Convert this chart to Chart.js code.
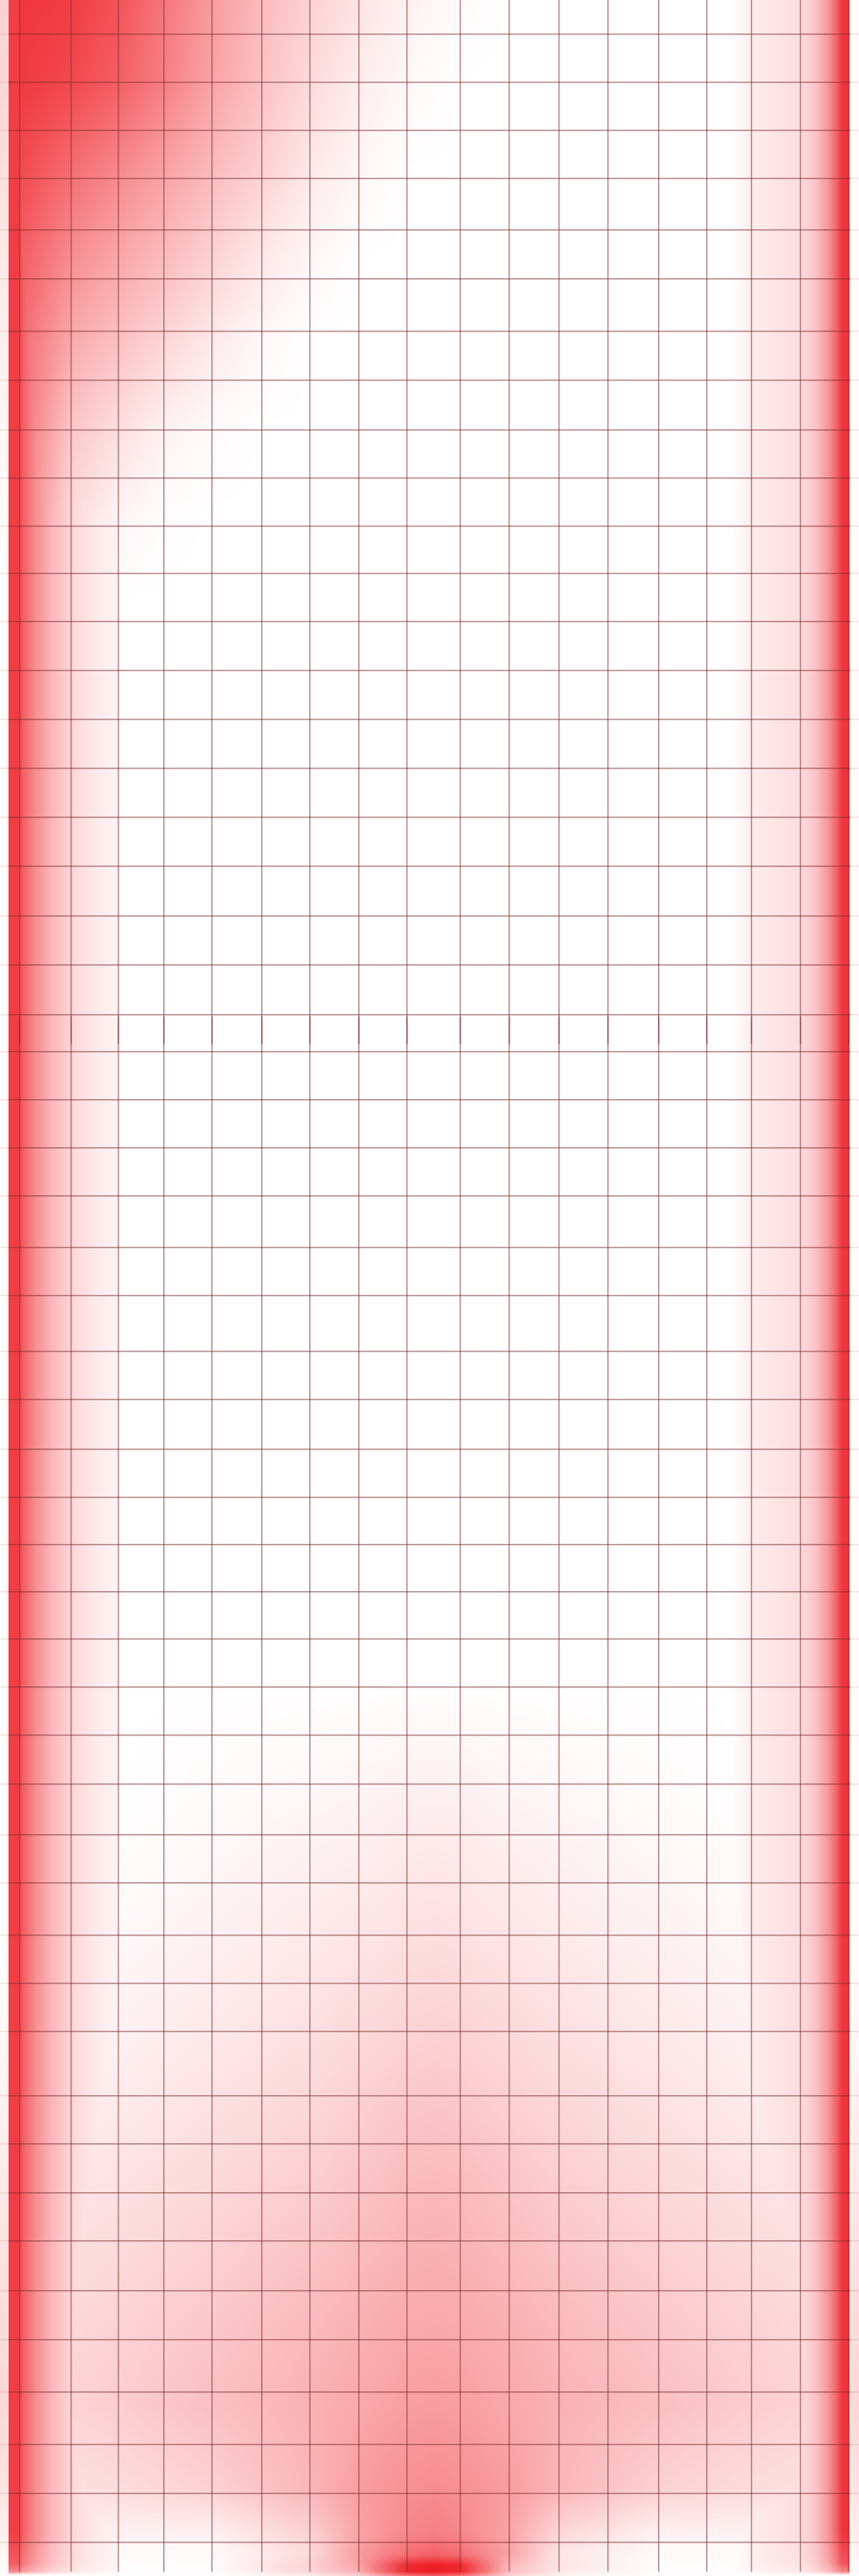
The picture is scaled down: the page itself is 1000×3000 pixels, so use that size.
<!DOCTYPE html>
<html>
<head>
<meta charset="utf-8">
<script src="https://cdn.jsdelivr.net/npm/chart.js@4.4.0/dist/chart.umd.min.js"></script>
<style>
  html, body { margin: 0; padding: 0; background: #ffffff; }
  #wrap { width: 1000px; height: 3000px; position: relative; }
</style>
</head>
<body>
<div id="wrap"><canvas id="c"></canvas></div>
<script>
// ---- tick positions (grid) ----
const xTicks = [23, 83, 138, 191, 247, 305, 361, 418, 474, 536, 593, 651, 708, 767, 823, 875, 932, 988];
const yTicks = [40, 96, 152, 208, 268, 325, 386, 443, 501, 557, 613, 668, 724, 781, 838, 895, 952, 1009, 1067, 1124, 1182,
                1225, 1281, 1337, 1393, 1453, 1509, 1574, 1630, 1688, 1744, 1799, 1854, 1909, 1965, 2021, 2078, 2137,
                2193, 2254, 2310, 2366, 2441, 2497, 2554, 2610, 2668, 2725, 2786, 2847, 2904, 2961];
const axisRowValue = 1184;

// ---- edge bands: intensity across x, scaled along y ----
const edgeX  = [0, 8, 9.5, 10.5, 22, 23, 26, 40, 60, 83, 110, 137, 140, 850, 880, 932, 950, 965, 975, 980, 988, 989.5, 991, 1000];
const edgeA  = [0, 0.02, 0.15, 0.85, 0.85, 0.8, 0.72, 0.52, 0.32, 0.18, 0.1, 0.05, 0, 0, 0.09, 0.15, 0.27, 0.48, 0.72, 0.88, 0.9, 0.2, 0.02, 0];
const edgeY  = [0, 2950, 2985, 2995, 2999];
const edgeYA = [1, 1, 0.85, 0.6, 0];

// ---- top-left patch ----
const cornerX = [0, 10, 23, 83, 138, 191, 247, 305, 361, 418, 474, 536, 593];
const cornerY = [0, 100, 200, 300, 400, 500, 600, 700];
const cornerRows = [
  [0.2, 0.2, 0.88, 0.86, 0.76, 0.6, 0.44, 0.3, 0.2, 0.12, 0.06, 0.02, 0],
  [0.18, 0.18, 0.87, 0.8, 0.7, 0.56, 0.4, 0.27, 0.16, 0.08, 0.03, 0, 0],
  [0.14, 0.14, 0.8, 0.64, 0.52, 0.41, 0.3, 0.2, 0.1, 0.04, 0, 0, 0],
  [0.1, 0.1, 0.72, 0.5, 0.39, 0.3, 0.2, 0.1, 0.04, 0, 0, 0, 0],
  [0.07, 0.07, 0.66, 0.37, 0.27, 0.18, 0.09, 0.03, 0, 0, 0, 0, 0],
  [0.04, 0.04, 0.62, 0.25, 0.14, 0.06, 0.02, 0, 0, 0, 0, 0, 0],
  [0.02, 0.02, 0.6, 0.16, 0.05, 0.01, 0, 0, 0, 0, 0, 0, 0],
  [0, 0, 0, 0, 0, 0, 0, 0, 0, 0, 0, 0, 0]
];

// ---- bottom-centre patch ----
const baseX = [23, 138, 247, 361, 418, 474, 505, 536, 593, 651, 767, 875, 988];
const baseY = [1950, 2100, 2250, 2400, 2550, 2700, 2800, 2900, 2950, 2975, 2988, 2995, 3000];
const baseRows = [
  [0, 0, 0, 0, 0, 0, 0, 0, 0, 0, 0, 0, 0],
  [0, 0, 0.02, 0.04, 0.05, 0.07, 0.07, 0.07, 0.05, 0.04, 0.02, 0, 0],
  [0, 0.03, 0.06, 0.09, 0.11, 0.13, 0.14, 0.13, 0.11, 0.09, 0.06, 0.03, 0],
  [0.04, 0.07, 0.11, 0.15, 0.18, 0.21, 0.22, 0.21, 0.18, 0.15, 0.11, 0.07, 0.04],
  [0.1, 0.13, 0.17, 0.22, 0.26, 0.3, 0.31, 0.3, 0.26, 0.22, 0.17, 0.13, 0.1],
  [0.15, 0.19, 0.24, 0.3, 0.34, 0.37, 0.38, 0.37, 0.34, 0.3, 0.24, 0.19, 0.15],
  [0.17, 0.22, 0.28, 0.34, 0.38, 0.42, 0.43, 0.42, 0.38, 0.34, 0.28, 0.22, 0.17],
  [0.12, 0.15, 0.2, 0.32, 0.43, 0.49, 0.51, 0.49, 0.43, 0.32, 0.2, 0.15, 0.12],
  [0.07, 0.06, 0.06, 0.2, 0.4, 0.53, 0.56, 0.53, 0.4, 0.17, 0.06, 0.06, 0.07],
  [0.04, 0.02, 0.02, 0.16, 0.43, 0.64, 0.7, 0.64, 0.4, 0.11, 0.02, 0.02, 0.04],
  [0.02, 0.01, 0.01, 0.2, 0.4, 0.95, 1, 0.95, 0.3, 0.12, 0.01, 0.01, 0.02],
  [0.02, 0.01, 0.01, 0.18, 0.35, 0.95, 1, 0.95, 0.28, 0.1, 0.01, 0.01, 0.02],
  [0, 0, 0, 0.08, 0.2, 0.6, 0.7, 0.6, 0.2, 0.05, 0, 0, 0]
];

const heatRGB = [238, 28, 36];
const gridColor = 'rgba(125, 45, 45, 0.55)';
const marginTickColor = 'rgba(125, 45, 45, 0.12)';

function lookup(samples, n) {
  const idx = new Int32Array(n), w = new Float32Array(n);
  let i = 0;
  for (let p = 0; p < n; p++) {
    const v = p + 0.5;
    if (v <= samples[0]) { idx[p] = 0; w[p] = 0; continue; }
    if (v >= samples[samples.length - 1]) { idx[p] = samples.length - 2; w[p] = 1; continue; }
    while (i < samples.length - 2 && samples[i + 1] <= v) i++;
    while (i > 0 && samples[i] > v) i--;
    idx[p] = i;
    w[p] = (v - samples[i]) / (samples[i + 1] - samples[i]);
  }
  return { idx, w };
}

const heatPlugin = {
  id: 'heatField',
  beforeDraw(chart) {
    const W = chart.width, H = chart.height;
    if (!chart.$heat) {
      const xs = chart.scales.x, ys = chart.scales.y;
      const px = a => a.map(v => xs.getPixelForValue(v));
      const py = a => a.map(v => ys.getPixelForValue(v));
      const eX = lookup(px(edgeX), W), eY = lookup(py(edgeY), H);
      const cX = lookup(px(cornerX), W), cY = lookup(py(cornerY), H);
      const bX = lookup(px(baseX), W), bY = lookup(py(baseY), H);
      const off = document.createElement('canvas');
      off.width = W; off.height = H;
      const octx = off.getContext('2d');
      const img = octx.createImageData(W, H);
      const d = img.data;
      const edgeCol = new Float32Array(W);
      for (let x = 0; x < W; x++) {
        const i = eX.idx[x], t = eX.w[x];
        edgeCol[x] = edgeA[i] * (1 - t) + edgeA[i + 1] * t;
      }
      const bil = (rows, X, Y, x, y) => {
        const i = X.idx[x], t = X.w[x], j = Y.idx[y], u = Y.w[y];
        const r0 = rows[j], r1 = rows[j + 1];
        return (r0[i] * (1 - t) + r0[i + 1] * t) * (1 - u) + (r1[i] * (1 - t) + r1[i + 1] * t) * u;
      };
      const cornerEnd = ys.getPixelForValue(cornerY[cornerY.length - 1]);
      const baseStart = ys.getPixelForValue(baseY[0]);
      for (let y = 0; y < H; y++) {
        const j = eY.idx[y], u = eY.w[y];
        const ey = edgeYA[j] * (1 - u) + edgeYA[j + 1] * u;
        const inCorner = (y + 0.5) < cornerEnd;
        const inBase = (y + 0.5) > baseStart;
        for (let x = 0; x < W; x++) {
          let a = edgeCol[x] * ey;
          if (inCorner) { const c = bil(cornerRows, cX, cY, x, y); if (c > a) a = c; }
          if (inBase) { const b = bil(baseRows, bX, bY, x, y); if (b > a) a = b; }
          const k = (y * W + x) * 4;
          d[k]     = 255 - a * (255 - heatRGB[0]);
          d[k + 1] = 255 - a * (255 - heatRGB[1]);
          d[k + 2] = 255 - a * (255 - heatRGB[2]);
          d[k + 3] = 255;
        }
      }
      octx.putImageData(img, 0, 0);
      chart.$heat = off;
    }
    chart.ctx.save();
    chart.ctx.drawImage(chart.$heat, 0, 0, W, H);
    chart.ctx.restore();
  }
};

const setTicks = arr => scale => { scale.ticks = arr.map(v => ({ value: v })); };

new Chart(document.getElementById('c'), {
  type: 'scatter',
  data: { datasets: [] },
  options: {
    responsive: true,
    maintainAspectRatio: false,
    animation: false,
    devicePixelRatio: 1,
    layout: { padding: { top: 0, bottom: 5, left: 0, right: 0 } },
    plugins: { legend: { display: false }, tooltip: { enabled: false } },
    scales: {
      x: {
        type: 'linear', min: 10, max: 990,
        position: { y: axisRowValue },
        afterBuildTicks: setTicks(xTicks),
        ticks: { display: false },
        border: { display: false },
        grid: { color: gridColor, lineWidth: 1.5, drawTicks: true, tickLength: 32, tickColor: gridColor }
      },
      y: {
        type: 'linear', min: 0, max: 2995, reverse: true, position: 'left',
        afterBuildTicks: setTicks(yTicks),
        ticks: { display: false },
        border: { display: false },
        grid: { color: gridColor, lineWidth: 1.5, drawTicks: true, tickLength: 10, tickColor: marginTickColor }
      },
      y2: {
        type: 'linear', axis: 'y', min: 0, max: 2995, reverse: true, position: 'right',
        afterBuildTicks: setTicks(yTicks),
        ticks: { display: false },
        border: { display: false },
        grid: { drawOnChartArea: false, lineWidth: 1.5, drawTicks: true, tickLength: 10, tickColor: marginTickColor }
      }
    }
  },
  plugins: [heatPlugin]
});
</script>
</body>
</html>
